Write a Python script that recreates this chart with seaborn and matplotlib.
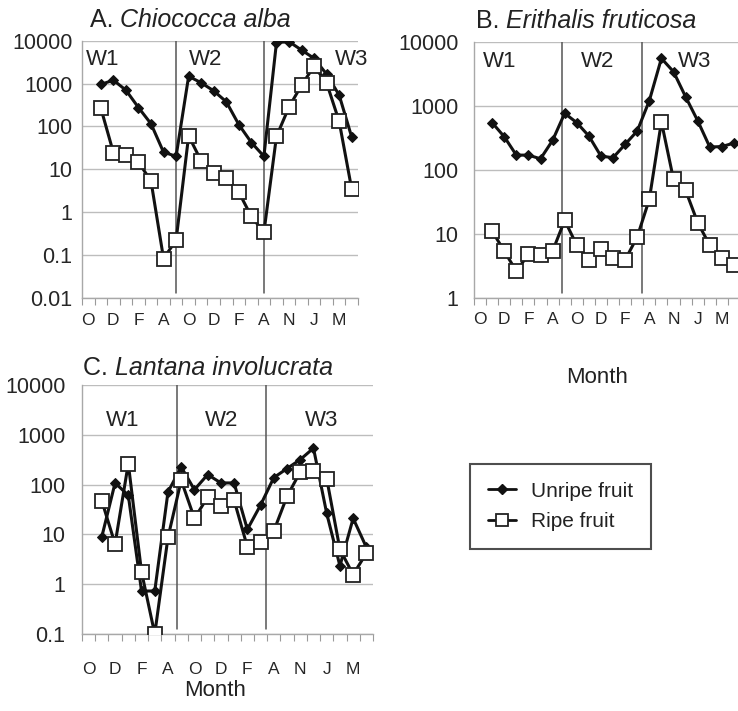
import numpy as np
import pandas as pd
import matplotlib
matplotlib.use('Agg')
import matplotlib.pyplot as plt
import seaborn as sns
from matplotlib.ticker import FixedLocator, NullLocator
from matplotlib.lines import Line2D

# month slots 1..21 (slot 0 has no data)
months = np.arange(1, 22)
month_labels = ['O', 'D', 'F', 'A', 'O', 'D', 'F', 'A', 'N', 'J', 'M']

# A. Chiococca alba
alba_unripe = [950, 1200, 700, 275, 115, 25, 20, 1480, 1040, 675, 375, 110, 42, 20,
               9000, 9500, 6050, 3870, 1650, 535, 56]
alba_ripe = [268, 24.5, 21, 14.6, 5.3, 0.082, 0.22, 60, 15.6, 8, 6.4, 2.9, 0.79, 0.335,
             58, 283, 915, 2540, 1035, 130, 3.4]

# B. Erithalis fruticosa
eri_unripe = [543, 328, 169, 169, 148, 287, 760, 543, 336, 163, 154, 249, 402, 1197,
              5490, 3400, 1380, 583, 226, 230, 261]
eri_ripe = [11, 5.35, 2.6, 4.75, 4.6, 5.35, 16.2, 6.6, 3.9, 5.8, 4.2, 3.9, 8.9, 34.4,
            562, 70.6, 47.6, 14.9, 6.6, 4.2, 3.2]

# C. Lantana involucrata
lan_unripe = [9.0, 108, 61, 0.73, 0.73, 71, 226, 79, 159, 108, 108, 12.6, 38.8, 138,
              210, 318, 540, 26.4, 2.33, 21, 5.5]
lan_ripe = [47, 6.4, 264, 1.77, 0.1, 8.7, 122, 21, 56, 37.6, 48.5, 5.65, 6.9, 11.7,
            58, 180, 186, 132, 5.0, 1.56, 4.2]

W, H = 738, 711

sns.set_theme(style='white')
plt.rcParams['font.family'] = ['Liberation Sans', 'DejaVu Sans']
plt.rcParams['text.color'] = '#222222'

fig = plt.figure(figsize=(W / 100, H / 100), dpi=100)


def px_axes(left, right, top, bottom):
    return fig.add_axes([left / W, 1 - bottom / H, (right - left) / W, (bottom - top) / H])


def panel(ax, unripe, ripe, ymin, dividers, wpos, wy, ypad, xpad):
    ax.set_yscale('log')
    df = pd.DataFrame({'month': months, 'unripe': unripe, 'ripe': ripe})
    sns.lineplot(data=df, x='month', y='unripe', ax=ax, color='#111111', lw=2.2,
                 marker='D', ms=5.5, mec='#111111', mfc='#111111', zorder=3)
    sns.lineplot(data=df, x='month', y='ripe', ax=ax, color='#111111', lw=2.2,
                 marker='s', ms=9.5, mfc='white', mec='#222222', mew=1.3, zorder=4)
    ax.set_xlim(-0.5, 21.5)
    ax.set_ylim(ymin, 10000)
    decades = [10.0 ** k for k in range(int(np.log10(ymin)), 5)]
    ax.yaxis.set_major_locator(FixedLocator(decades))
    ax.yaxis.set_minor_locator(NullLocator())
    ax.set_yticklabels(['%g' % d for d in decades])
    ax.grid(axis='y', color='#bdbdbd', lw=1)
    ax.grid(axis='x', visible=False)
    ax.set_xticks(np.arange(0, 21, 2))
    ax.set_xticklabels(month_labels)
    ax.xaxis.set_minor_locator(FixedLocator(np.arange(-0.5, 22, 1)))
    ax.tick_params(axis='x', which='major', length=0, pad=xpad, labelsize=12.5)
    ax.tick_params(axis='x', which='minor', bottom=True, length=5, width=0.8,
                   color='#9a9a9a', direction='out')
    ax.tick_params(axis='y', length=0, pad=ypad, labelsize=15.5)
    for s in ['top', 'right']:
        ax.spines[s].set_visible(False)
    for s in ['left', 'bottom']:
        ax.spines[s].set_color('#a8a8a8')
        ax.spines[s].set_linewidth(1)
    for d in dividers:
        ax.axvline(d, ymin=0.02, ymax=1, color='#555555', lw=1.1, zorder=2)
    for name, xf in zip(['W1', 'W2', 'W3'], wpos):
        ax.text(xf, wy, name, transform=ax.transAxes, ha='center', va='center',
                fontsize=16, color='#222222', zorder=5)
    ax.set_xlabel('')
    ax.set_ylabel('')


def title(x, y, prefix, species):
    t = fig.text(x / W, 1 - y / H, prefix, fontsize=18, ha='left', va='baseline')
    plt.annotate(species, xy=(1, 0), xycoords=t, fontsize=18, style='italic',
                 ha='left', va='bottom', annotation_clip=False)


ax_a = px_axes(82, 358, 40.7, 297.7)
panel(ax_a, alba_unripe, alba_ripe, 0.01, [7, 14], [0.076, 0.446, 0.975], 0.925, 7, 11)

ax_b = px_axes(474, 740, 41.7, 297.7)
panel(ax_b, eri_unripe, eri_ripe, 1, [6.75, 13.4], [0.098, 0.466, 0.831], 0.922, 11, 10)

ax_c = px_axes(82, 373, 385, 634)
panel(ax_c, lan_unripe, lan_ripe, 0.1, [6.7, 13.4], [0.141, 0.481, 0.824], 0.859, 12, 20)

title(90, 27.3, 'A. ', 'Chiococca alba')
title(476, 28.3, 'B. ', 'Erithalis fruticosa')
title(83, 375, 'C. ', 'Lantana involucrata')

fig.text(597 / W, 1 - 378 / H, 'Month', fontsize=16, ha='center', va='center')
fig.text(215 / W, 1 - 690 / H, 'Month', fontsize=16, ha='center', va='center')

handles = [
    Line2D([], [], color='#111111', lw=2, marker='D', ms=5.5),
    Line2D([], [], color='#111111', lw=2, marker='s', ms=9, mfc='white', mec='#222222', mew=1.3),
]
leg = fig.legend(handles, ['Unripe fruit', 'Ripe fruit'], loc='upper left',
                 bbox_to_anchor=(470 / W, 1 - 464 / H), fontsize=15, frameon=True,
                 fancybox=False, edgecolor='#222222', handlelength=1.35,
                 handletextpad=0.75, borderpad=0.85, labelspacing=0.55, borderaxespad=0)
leg.get_frame().set_linewidth(1.5)

fig.savefig('out.png', dpi=100, facecolor='white')
